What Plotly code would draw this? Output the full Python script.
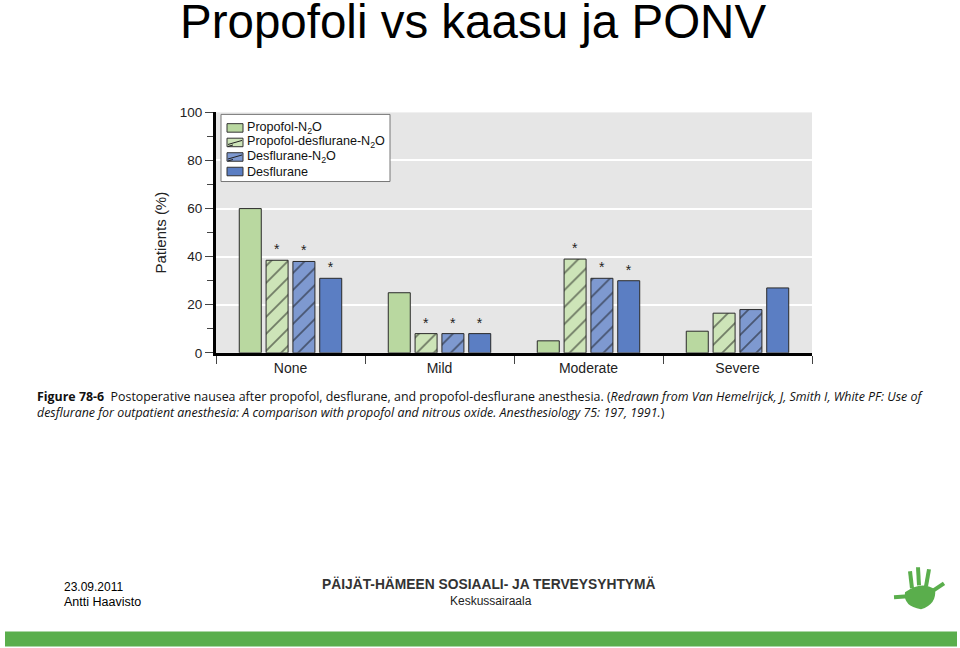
import plotly.graph_objects as go

# ---------------- data ----------------
categories = ["None", "Mild", "Moderate", "Severe"]
series_names = [
    "Propofol-N<sub>2</sub>O",
    "Propofol-desflurane-N<sub>2</sub>O",
    "Desflurane-N<sub>2</sub>O",
    "Desflurane",
]
propofol_n2o = [60, 25, 5, 9]
propofol_desflurane_n2o = [38.5, 8, 39, 16.5]
desflurane_n2o = [38, 8, 31, 18]
desflurane = [31, 8, 30, 27]
# significance markers (asterisks) per series
sig_propofol_n2o = ["", "", "", ""]
sig_propofol_desflurane_n2o = ["*", "*", "*", ""]
sig_desflurane_n2o = ["*", "*", "*", ""]
sig_desflurane = ["*", "*", "*", ""]
y_tick_values = [0, 20, 40, 60, 80, 100]

# ---------------- styles ----------------
W, H = 960, 648
# the page is photographed with a slight vertical offset/scale; compensate
Y_SCALE, Y_OFF = 0.975, 7.8


def px(x):
    return x / W


def py(y):
    return 1 - ((y - Y_OFF) / Y_SCALE) / H


FONT = "Liberation Sans, Arial, sans-serif"
CAPTION_FONT = "Open Sans, Lato, sans-serif"

series_values = [propofol_n2o, propofol_desflurane_n2o, desflurane_n2o, desflurane]
series_sig = [sig_propofol_n2o, sig_propofol_desflurane_n2o, sig_desflurane_n2o, sig_desflurane]
series_colors = ["#b9d8a0", "#cde4b8", "#7e99d0", "#5b7ec3"]
series_hatch = ["", "/", "/", ""]

fig = go.Figure()
for name, vals, sig, col, hatch in zip(series_names, series_values, series_sig, series_colors, series_hatch):
    marker = dict(color=col, line=dict(color="#2a2a2a", width=1))
    if hatch:
        marker["pattern"] = dict(shape=hatch, fgcolor="#111111", bgcolor=col, size=12, solidity=0.15)
    fig.add_trace(go.Bar(
        name=name, x=categories, y=vals, marker=marker,
        text=sig, textposition="outside", cliponaxis=False,
        textfont=dict(family=FONT, size=14, color="#222"),
        showlegend=False,
    ))

annotations = [
    dict(text="Propofoli vs kaasu ja PONV", x=px(472.5), y=py(22), xanchor="center", yanchor="middle",
         font=dict(family=FONT, size=47.5, color="#000")),
    dict(text="<b>Figure 78-6</b>  Postoperative nausea after propofol, desflurane, and propofol-desflurane anesthesia. "
              "(<i>Redrawn from Van Hemelrijck, J, Smith I, White PF: Use of</i><br>"
              "<i>desflurane for outpatient anesthesia: A comparison with propofol and nitrous oxide. "
              "Anesthesiology 75: 197, 1991.</i>)",
         x=px(35), y=py(404.5), xanchor="left", yanchor="middle", align="left",
         font=dict(family=CAPTION_FONT, size=12.4, color="#111")),
    dict(text="23.09.2011", x=px(62), y=py(587), xanchor="left", yanchor="middle",
         font=dict(family=FONT, size=12, color="#000")),
    dict(text="Antti Haavisto", x=px(62), y=py(602), xanchor="left", yanchor="middle",
         font=dict(family=FONT, size=12.5, color="#000")),
    dict(text="<b>PÄIJÄT-HÄMEEN SOSIAALI- JA TERVEYSYHTYMÄ</b>", x=px(489), y=py(584), xanchor="center",
         yanchor="middle", font=dict(family=FONT, size=13.8, color="#333")),
    dict(text="Keskussairaala", x=px(491), y=py(601), xanchor="center", yanchor="middle",
         font=dict(family=FONT, size=12, color="#222")),
]

# manual legend (box, swatches, labels)
LEG_X0, LEG_X1, LEG_Y0, LEG_Y1 = 221, 390, 115, 182
leg_rows = [128.5, 143, 157.5, 172]
SW_X0, SW_X1, SW_H = 227, 243, 8.5

GREEN = "#5aae4c"
shapes = [
    dict(type="rect", xref="paper", yref="paper", x0=px(LEG_X0), x1=px(LEG_X1), y0=py(LEG_Y1), y1=py(LEG_Y0),
         fillcolor="white", line=dict(color="#777", width=1), layer="above"),
]
for name, col, hatch, yc in zip(series_names, series_colors, series_hatch, leg_rows):
    shapes.append(dict(type="rect", xref="paper", yref="paper", x0=px(SW_X0), x1=px(SW_X1),
                       y0=py(yc + SW_H / 2), y1=py(yc - SW_H / 2), fillcolor=col,
                       line=dict(color="#333", width=1), layer="above"))
    if hatch:
        shapes.append(dict(type="line", xref="paper", yref="paper", x0=px(SW_X0 + 1), y0=py(yc + 2),
                           x1=px(SW_X1 - 1), y1=py(yc - 2), line=dict(color="#222", width=1), layer="above"))
        shapes.append(dict(type="line", xref="paper", yref="paper", x0=px(SW_X0 + 1), y0=py(yc + 4),
                           x1=px(SW_X0 + 6), y1=py(yc + 2.5), line=dict(color="#222", width=1), layer="above"))
    annotations.append(dict(text=name, x=px(SW_X1 + 2), y=py(yc), xanchor="left", yanchor="middle",
                            font=dict(family=FONT, size=12.6, color="#111")))

shapes += [
    dict(type="rect", xref="paper", yref="paper", x0=px(5), x1=px(957), y0=py(646), y1=py(631),
         fillcolor=GREEN, line=dict(width=0), layer="above"),
    # logo: palm
    dict(type="path", xref="paper", yref="paper",
         path="M {} {} Q {} {} {} {} Q {} {} {} {} Q {} {} {} {} Z".format(
             px(905), py(592), px(903), py(606), px(921), py(609),
             px(937), py(604), px(935), py(589), px(921), py(580), px(905), py(592)),
         fillcolor=GREEN, line=dict(width=0)),
]
fingers = [((908, 596), (894, 597)), ((912, 588), (910, 571)), ((919, 585), (918, 567)),
           ((926, 586), (929, 569)), ((932, 591), (944, 583))]
for (x0, y0), (x1, y1) in fingers:
    shapes.append(dict(type="line", xref="paper", yref="paper", x0=px(x0), y0=py(y0), x1=px(x1), y1=py(y1),
                       line=dict(color=GREEN, width=4)))

for a in annotations:
    a.update(xref="paper", yref="paper", showarrow=False)

fig.update_layout(
    width=W, height=H, autosize=False,
    margin=dict(l=0, r=0, t=0, b=0),
    paper_bgcolor="white", plot_bgcolor="#e6e6e6",
    barmode="group", bargap=0.28, bargroupgap=0.18,
    font=dict(family=FONT, size=14, color="#222"),
    xaxis=dict(domain=[px(216), px(812)], type="category", range=[-0.5, 3.5],
               tickson="boundaries", ticks="outside", ticklen=8, tickcolor="#444", tickwidth=1,
               showline=True, linecolor="#000", linewidth=3, showgrid=False,
               tickfont=dict(family=FONT, size=14, color="#222")),
    yaxis=dict(domain=[py(353), py(113)], range=[0, 100], tickvals=y_tick_values,
               ticks="outside", ticklen=8, tickcolor="#444", tickwidth=1,
               showline=True, linecolor="#000", linewidth=3, zeroline=False,
               showgrid=True, gridcolor="#ffffff", gridwidth=1.5,
               minor=dict(dtick=10, tick0=0, ticks="outside", ticklen=6, tickcolor="#444", showgrid=False),
               title=dict(text="Patients (%)", font=dict(family=FONT, size=15, color="#222"), standoff=10),
               tickfont=dict(family=FONT, size=13.5, color="#222")),
    annotations=annotations,
    shapes=shapes,
    showlegend=False,
)

fig.write_html("out.html")
